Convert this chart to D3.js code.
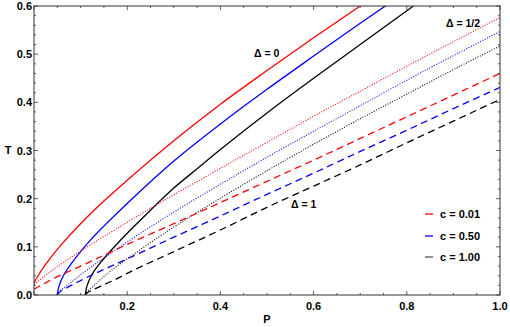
<!DOCTYPE html>
<html>
<head>
<meta charset="utf-8">
<script src="https://cdn.jsdelivr.net/npm/d3@7"></script>
<style>
  html, body { margin: 0; padding: 0; background: #fff; }
  svg text { font-family: "Liberation Sans", Arial, sans-serif; font-weight: bold; }
</style>
</head>
<body>
<div id="chart"></div>
<script>
// ---- data ----
const cValues = ["c = 0.01", "c = 0.50", "c = 1.00"];
const colors = ["#ff0000", "#0000ff", "#000000"];
const deltaLabels = ["Δ = 0", "Δ = 1/2", "Δ = 1"];

// Δ = 0 (solid)
const P_s_c001 = [0, 0.01, 0.03, 0.06, 0.1, 0.15, 0.2, 0.3, 0.4, 0.5, 0.6, 0.7];
const T_s_c001 = [0.025, 0.042, 0.070, 0.106, 0.148, 0.195, 0.238, 0.320, 0.396, 0.466, 0.534, 0.600];
const P_s_c050 = [0.05, 0.052, 0.056, 0.062, 0.07, 0.08, 0.1, 0.125, 0.15, 0.2, 0.25, 0.3, 0.4, 0.5, 0.6, 0.7, 0.76];
const T_s_c050 = [0, 0.012, 0.025, 0.038, 0.051, 0.065, 0.090, 0.118, 0.143, 0.190, 0.235, 0.278, 0.355, 0.427, 0.496, 0.564, 0.604];
const P_s_c100 = [0.11, 0.112, 0.116, 0.122, 0.13, 0.14, 0.16, 0.185, 0.21, 0.25, 0.3, 0.35, 0.4, 0.5, 0.6, 0.7, 0.82];
const T_s_c100 = [0, 0.012, 0.025, 0.038, 0.051, 0.064, 0.087, 0.113, 0.138, 0.176, 0.222, 0.262, 0.302, 0.378, 0.450, 0.520, 0.604];

// Δ = 1/2 (dotted)
const P_d_c001 = [0, 0.05, 0.1, 0.2, 0.3, 0.4, 0.5, 0.6, 0.7, 0.8, 0.9, 1.0];
const T_d_c001 = [0.022, 0.059, 0.091, 0.151, 0.208, 0.263, 0.317, 0.371, 0.423, 0.475, 0.526, 0.576];
const P_d_c050 = [0.05, 0.053, 0.06, 0.075, 0.1, 0.15, 0.2, 0.3, 0.4, 0.5, 0.6, 0.7, 0.8, 0.9, 1.0];
const T_d_c050 = [0, 0.006, 0.012, 0.023, 0.042, 0.077, 0.110, 0.172, 0.230, 0.286, 0.340, 0.393, 0.446, 0.497, 0.547];
const P_d_c100 = [0.11, 0.113, 0.12, 0.14, 0.17, 0.2, 0.3, 0.4, 0.5, 0.6, 0.7, 0.8, 0.9, 1.0];
const T_d_c100 = [0, 0.006, 0.012, 0.030, 0.054, 0.075, 0.141, 0.201, 0.258, 0.313, 0.366, 0.417, 0.468, 0.517];

// Δ = 1 (dashed)
const P_h_c001 = [0, 0.05, 0.1, 0.2, 0.3, 0.4, 0.5, 0.6, 0.7, 0.8, 0.9, 1.0];
const T_h_c001 = [0.012, 0.038, 0.060, 0.105, 0.148, 0.192, 0.236, 0.280, 0.325, 0.370, 0.415, 0.460];
const P_h_c050 = [0.05, 0.055, 0.065, 0.08, 0.1, 0.2, 0.3, 0.4, 0.5, 0.6, 0.7, 0.8, 0.9, 1.0];
const T_h_c050 = [0, 0.006, 0.012, 0.020, 0.030, 0.075, 0.120, 0.164, 0.209, 0.253, 0.298, 0.342, 0.387, 0.431];
const P_h_c100 = [0.11, 0.115, 0.125, 0.14, 0.17, 0.2, 0.3, 0.4, 0.5, 0.6, 0.7, 0.8, 0.9, 1.0];
const T_h_c100 = [0, 0.005, 0.010, 0.017, 0.030, 0.045, 0.090, 0.135, 0.182, 0.226, 0.270, 0.316, 0.361, 0.406];

const xTicks = [0.2, 0.4, 0.6, 0.8, 1.0];
const yTicks = [0.0, 0.1, 0.2, 0.3, 0.4, 0.5, 0.6];

// ---- layout ----
const W = 510, H = 327;
const m = { left: 34, right: 10, top: 6, bottom: 32 };
const iw = W - m.left - m.right, ih = H - m.top - m.bottom;

const svg = d3.select("#chart").append("svg").attr("width", W).attr("height", H);
const g = svg.append("g").attr("transform", `translate(${m.left},${m.top})`);

const x = d3.scaleLinear().domain([0, 1]).range([0, iw]);
const y = d3.scaleLinear().domain([0, 0.6]).range([ih, 0]);

svg.append("defs").append("clipPath").attr("id", "clip")
  .append("rect").attr("width", iw).attr("height", ih);

const series = [
  { P: P_s_c001, T: T_s_c001, ci: 0, style: "solid" },
  { P: P_s_c050, T: T_s_c050, ci: 1, style: "solid" },
  { P: P_s_c100, T: T_s_c100, ci: 2, style: "solid" },
  { P: P_d_c001, T: T_d_c001, ci: 0, style: "dotted" },
  { P: P_d_c050, T: T_d_c050, ci: 1, style: "dotted" },
  { P: P_d_c100, T: T_d_c100, ci: 2, style: "dotted" },
  { P: P_h_c001, T: T_h_c001, ci: 0, style: "dashed" },
  { P: P_h_c050, T: T_h_c050, ci: 1, style: "dashed" },
  { P: P_h_c100, T: T_h_c100, ci: 2, style: "dashed" },
];

const line = d3.line().x(d => x(d[0])).y(d => y(d[1])).curve(d3.curveMonotoneX);
const lines = g.append("g").attr("clip-path", "url(#clip)");
series.forEach(s => {
  const pts = s.P.map((p, i) => [p, s.T[i]]);
  const path = lines.append("path").datum(pts)
    .attr("d", line)
    .attr("fill", "none")
    .attr("stroke", colors[s.ci]);
  if (s.style === "solid") path.attr("stroke-width", 1.3);
  if (s.style === "dotted") path.attr("stroke-width", 1.1).attr("stroke-dasharray", "1,1.6");
  if (s.style === "dashed") path.attr("stroke-width", 1.3).attr("stroke-dasharray", "7,4.5");
});

// ---- frame with ticks ----
const frameColor = "#333";
g.append("rect").attr("width", iw).attr("height", ih)
  .attr("fill", "none").attr("stroke", frameColor).attr("stroke-width", 1);

const ax = g.append("g").attr("stroke", frameColor).attr("stroke-width", 0.8);
d3.range(0, 1.0001, 0.05).forEach(v => {
  const major = Math.abs(v / 0.2 - Math.round(v / 0.2)) < 1e-6;
  const len = major ? 4 : 2;
  ax.append("line").attr("x1", x(v)).attr("x2", x(v)).attr("y1", ih).attr("y2", ih - len);
  ax.append("line").attr("x1", x(v)).attr("x2", x(v)).attr("y1", 0).attr("y2", len);
});
d3.range(0, 0.6001, 0.02).forEach(v => {
  const major = Math.abs(v / 0.1 - Math.round(v / 0.1)) < 1e-6;
  const len = major ? 4 : 2;
  ax.append("line").attr("y1", y(v)).attr("y2", y(v)).attr("x1", 0).attr("x2", len);
  ax.append("line").attr("y1", y(v)).attr("y2", y(v)).attr("x1", iw).attr("x2", iw - len);
});

// tick labels
g.selectAll(".xt").data(xTicks).enter().append("text")
  .attr("x", d => x(d)).attr("y", ih + 14.5)
  .attr("text-anchor", "middle").attr("font-size", 11)
  .text(d => d.toFixed(1));
g.selectAll(".yt").data(yTicks).enter().append("text")
  .attr("x", -2).attr("y", d => y(d) + 4)
  .attr("text-anchor", "end").attr("font-size", 11)
  .text(d => d.toFixed(1));

// axis titles
svg.append("text").attr("x", 267).attr("y", 323).attr("text-anchor", "middle")
  .attr("font-size", 11).text("P");
svg.append("text").attr("x", 8).attr("y", 154).attr("text-anchor", "middle")
  .attr("font-size", 11).text("T");

// Δ labels
svg.append("text").attr("x", 254).attr("y", 57).attr("font-size", 10.5).text(deltaLabels[0]);
svg.append("text").attr("x", 446).attr("y", 26.5).attr("font-size", 10.5).text(deltaLabels[1]);
svg.append("text").attr("x", 291).attr("y", 207.5).attr("font-size", 10.5).text(deltaLabels[2]);

// legend
const legColors = ["#ff0000", "#0000ff", "#555555"];
const legY = [214, 236, 257];
cValues.forEach((t, i) => {
  svg.append("line").attr("x1", 425).attr("x2", 433).attr("y1", legY[i]).attr("y2", legY[i])
    .attr("stroke", legColors[i]).attr("stroke-width", 1.3);
  svg.append("text").attr("x", 440).attr("y", legY[i] + 4).attr("font-size", 11).text(t);
});
</script>
</body>
</html>
